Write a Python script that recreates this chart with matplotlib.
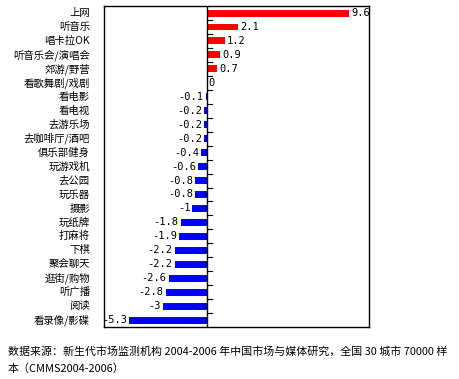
import matplotlib
matplotlib.use("Agg")
import matplotlib.pyplot as plt
import matplotlib.transforms as mtransforms

plt.rcParams['font.family'] = ['Noto Sans CJK SC', 'DejaVu Sans']

categories = ['上网', '听音乐', '唱卡拉OK', '听音乐会/演唱会', '郊游/野营', '看歌舞剧/戏剧',
              '看电影', '看电视', '去游乐场', '去咖啡厅/酒吧', '俱乐部健身', '玩游戏机',
              '去公园', '玩乐器', '摄影', '玩纸牌', '打麻将', '下棋', '聚会聊天',
              '逛街/购物', '听广播', '阅读', '看录像/影碟']
values = [9.6, 2.1, 1.2, 0.9, 0.7, 0, -0.1, -0.2, -0.2, -0.2, -0.4, -0.6,
          -0.8, -0.8, -1, -1.8, -1.9, -2.2, -2.2, -2.6, -2.8, -3, -5.3]
value_labels = ['9.6', '2.1', '1.2', '0.9', '0.7', '0', '-0.1', '-0.2', '-0.2', '-0.2',
                '-0.4', '-0.6', '-0.8', '-0.8', '-1', '-1.8', '-1.9', '-2.2', '-2.2',
                '-2.6', '-2.8', '-3', '-5.3']
note = ('数据来源：新生代市场监测机构 2004-2006 年中国市场与媒体研究，全国 30 城市 70000 样\n'
        '本（CMMS2004-2006）')

fig = plt.figure(figsize=(4.59, 3.79), dpi=100)
ax = fig.add_axes([0.2266, 0.137, 0.578, 0.847])

ypos = list(range(len(categories)))
colors = ['#ff0000' if v > 0 else '#0000ff' for v in values]
ax.barh(ypos, values, height=0.5, color=colors)

ax.set_xlim(-7, 11)
ax.set_ylim(len(categories) - 0.5, -0.5)
ax.set_xticks([])
ax.set_yticks([])
for s in ax.spines.values():
    s.set_linewidth(1)
    s.set_color('black')

# zero line with small ticks between categories
ax.axvline(0, color='black', lw=1)
for i in range(len(categories) - 1):
    ax.plot([0, 0.3], [i + 0.5, i + 0.5], color='black', lw=0.8)

# value labels
num_font = dict(fontsize=7.5, family='DejaVu Sans Mono')
for y, v, lab in zip(ypos, values, value_labels):
    if v > 0:
        ax.text(v + 0.15, y, lab, ha='left', va='center', **num_font)
    elif v == 0:
        ax.text(0.1, y, lab, ha='left', va='center', **num_font)
    else:
        ax.text(v - 0.15, y, lab, ha='right', va='center', **num_font)

# category labels to the left of the axes
trans = mtransforms.blended_transform_factory(fig.transFigure, ax.transData)
for y, c in zip(ypos, categories):
    ax.text(90 / 459, y, c, transform=trans, ha='right', va='center', fontsize=7.5)

fig.text(8 / 459, 1 - 360 / 379, note, ha='left', va='center', fontsize=7.9,
         linespacing=1.7)

fig.savefig('out.png', dpi=100)
